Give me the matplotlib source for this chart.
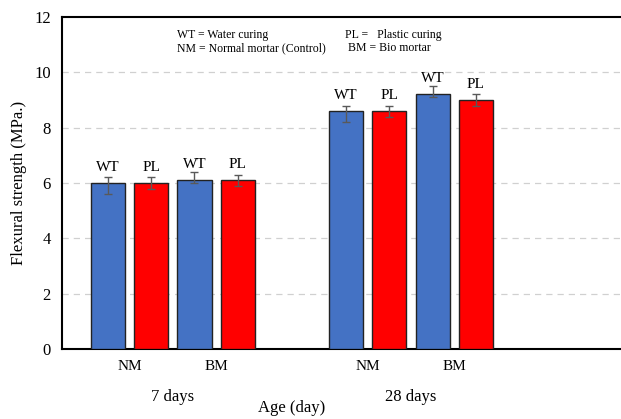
import matplotlib.pyplot as plt
import matplotlib

matplotlib.rcParams['font.family'] = ['Liberation Serif', 'DejaVu Serif']

# Data
ages = ['7 days', '28 days']
mortars = ['NM', 'BM']
curing = ['WT', 'PL']
strength = [6.0, 6.0, 6.1, 6.1, 8.6, 8.6, 9.2, 9.0]
err_low = [0.4, 0.2, 0.1, 0.2, 0.4, 0.2, 0.1, 0.2]
err_high = [0.2, 0.2, 0.3, 0.2, 0.2, 0.2, 0.3, 0.2]
bar_curing = ['WT', 'PL', 'WT', 'PL', 'WT', 'PL', 'WT', 'PL']

blue = '#4472C4'
red = '#FF0000'

fig = plt.figure(figsize=(6.21, 4.19), dpi=100)
ax = fig.add_axes([0.0998, 0.167, 0.9002, 0.7924])

xpos = [0, 1, 2, 3, 5.5, 6.5, 7.5, 8.5]
colors = [blue if c == 'WT' else red for c in bar_curing]

ax.bar(xpos, strength, width=0.79, color=colors, edgecolor='#222222', linewidth=1.0, zorder=3)
ax.errorbar(xpos, strength, yerr=[err_low, err_high], fmt='none', ecolor='#595959',
            elinewidth=1.0, capsize=3, capthick=1.0, zorder=4)

for x, v, lab in zip(xpos, strength, bar_curing):
    ax.annotate(lab, xy=(x, v), xytext=(0, 16), textcoords='offset pixels',
                ha='center', va='center', fontsize=11)

ax.set_xlim(-1.06, 11.85)
ax.set_ylim(0, 12)
ax.set_yticks([0, 2, 4, 6, 8, 10, 12])
ax.tick_params(axis='y', length=0, labelsize=12, pad=8)
ax.set_xticks([])
for y in [2, 4, 6, 8, 10]:
    ax.axhline(y, color='#d0d0d0', linestyle=(0, (5, 4)), linewidth=0.9, zorder=1)

for s in ['left', 'bottom', 'top']:
    ax.spines[s].set_color('black')
    ax.spines[s].set_linewidth(1.5)
ax.spines['right'].set_visible(False)

# category labels under the axis
groups = [xpos[:4], xpos[4:]]
for g, age in zip(groups, ages):
    for k, m in enumerate(mortars):
        cx = (g[2 * k] + g[2 * k + 1]) / 2
        ax.text(cx, -0.62, m, ha='center', va='center', fontsize=11)
    ax.text((g[0] + g[-1]) / 2, -1.73, age, ha='center', va='center', fontsize=12)

ax.text(4.25, -2.13, 'Age (day)', ha='center', va='center', fontsize=12)
ax.set_ylabel('Flexural strength (MPa.)', fontsize=12, labelpad=5)

# legend note
fig.text(177 / 621, 1 - 35 / 419, 'WT = Water curing', fontsize=8.5, va='center')
fig.text(345 / 621, 1 - 35 / 419, 'PL =   Plastic curing', fontsize=8.5, va='center')
fig.text(177 / 621, 1 - 48 / 419, 'NM = Normal mortar (Control)', fontsize=8.5, va='center')
fig.text(348 / 621, 1 - 48 / 419, 'BM = Bio mortar', fontsize=8.5, va='center')

fig.savefig('out.png', dpi=100)
